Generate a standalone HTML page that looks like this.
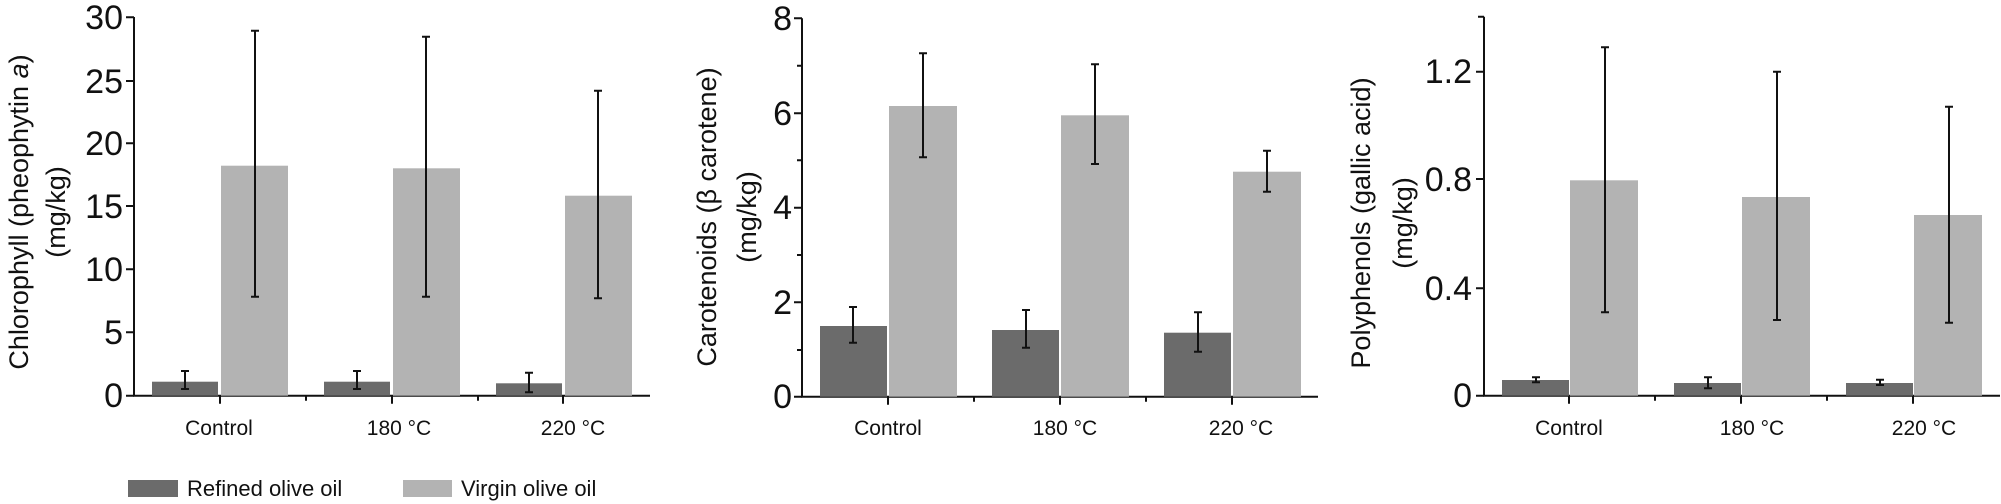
<!DOCTYPE html>
<html><head><style>
html,body{margin:0;padding:0;background:#fff;}
svg{display:block;font-family:"Liberation Sans",Arial,sans-serif;}
.tk{font-family:"Liberation Sans Narrow","Liberation Sans",Arial,sans-serif;}
</style></head><body>
<svg width="2001" height="504" viewBox="0 0 2001 504" xmlns="http://www.w3.org/2000/svg">
<g stroke="#111" stroke-width="2" fill="none">
<!-- chart1 axes -->
<path d="M134,17 V395.7 H650"/>
<path d="M134,17.3 h-8 M134,81 h-8 M134,143.3 h-8 M134,206 h-8 M134,269.3 h-8 M134,332.3 h-8 M134,395.7 h-8"/>
<path d="M220,395.7 v8 M392,395.7 v8 M563,395.7 v8 M306,395.7 v5 M478,395.7 v5"/>
<!-- chart2 axes -->
<path d="M802,18.3 V396.7 H1318"/>
<path d="M802,18.3 h-8 M802,113.3 h-8 M802,207.7 h-8 M802,302.3 h-8 M802,396.7 h-8"/>
<path d="M802,65.7 h-5 M802,160.3 h-5 M802,255 h-5 M802,350 h-5"/>
<path d="M888,396.7 v8 M1060,396.7 v8 M1232,396.7 v8 M974,396.7 v5 M1146,396.7 v5"/>
<!-- chart3 axes -->
<path d="M1484,16.7 V395.7 H2000"/>
<path d="M1484,16.7 h-6 M1484,71.7 h-8 M1484,179 h-8 M1484,288.3 h-8 M1484,395.7 h-8"/>
<path d="M1569,395.7 v8 M1741,395.7 v8 M1913,395.7 v8 M1655,395.7 v5 M1827,395.7 v5"/>
</g>
<g>
<rect x="152" y="381.7" width="66" height="14" fill="#6b6b6b"/>
<rect x="221" y="165.7" width="67" height="230" fill="#b3b3b3"/>
<rect x="324" y="381.7" width="66" height="14" fill="#6b6b6b"/>
<rect x="393" y="168.3" width="67" height="227.4" fill="#b3b3b3"/>
<rect x="496" y="383.3" width="66" height="12.4" fill="#6b6b6b"/>
<rect x="565" y="195.7" width="67" height="200" fill="#b3b3b3"/>

<rect x="820" y="326" width="67" height="70.7" fill="#6b6b6b"/>
<rect x="889" y="106" width="68" height="290.7" fill="#b3b3b3"/>
<rect x="992" y="330" width="67" height="66.7" fill="#6b6b6b"/>
<rect x="1061" y="115.3" width="68" height="281.4" fill="#b3b3b3"/>
<rect x="1164" y="332.7" width="67" height="64" fill="#6b6b6b"/>
<rect x="1233" y="171.7" width="68" height="225" fill="#b3b3b3"/>

<rect x="1502" y="380" width="67" height="15.7" fill="#6b6b6b"/>
<rect x="1570" y="180.3" width="68" height="215.4" fill="#b3b3b3"/>
<rect x="1674" y="383" width="67" height="12.7" fill="#6b6b6b"/>
<rect x="1742" y="197" width="68" height="198.7" fill="#b3b3b3"/>
<rect x="1846" y="383" width="67" height="12.7" fill="#6b6b6b"/>
<rect x="1914" y="215" width="68" height="180.7" fill="#b3b3b3"/>
</g>
<g stroke="#111" stroke-width="2" fill="none">
<path d="M185,371 V389 M181,371 h8 M181,389 h8"/>
<path d="M255,30.7 V296.7 M251,30.7 h8 M251,296.7 h8"/>
<path d="M357,371 V389 M353,371 h8 M353,389 h8"/>
<path d="M426,36.7 V296.7 M422,36.7 h8 M422,296.7 h8"/>
<path d="M529,372.7 V392.3 M525,372.7 h8 M525,392.3 h8"/>
<path d="M598,90.7 V298.3 M594,90.7 h8 M594,298.3 h8"/>

<path d="M853,307 V342.7 M849,307 h8 M849,342.7 h8"/>
<path d="M923,53.3 V157.3 M919,53.3 h8 M919,157.3 h8"/>
<path d="M1026,310 V347.7 M1022,310 h8 M1022,347.7 h8"/>
<path d="M1095,64.3 V164 M1091,64.3 h8 M1091,164 h8"/>
<path d="M1198,312.3 V351.7 M1194,312.3 h8 M1194,351.7 h8"/>
<path d="M1267,150.7 V191.7 M1263,150.7 h8 M1263,191.7 h8"/>

<path d="M1536,377.3 V382.3 M1532,377.3 h8 M1532,382.3 h8"/>
<path d="M1605,47.3 V312.3 M1601,47.3 h8 M1601,312.3 h8"/>
<path d="M1708,377.3 V388.3 M1704,377.3 h8 M1704,388.3 h8"/>
<path d="M1777,71.7 V320 M1773,71.7 h8 M1773,320 h8"/>
<path d="M1880,379.7 V385 M1876,379.7 h8 M1876,385 h8"/>
<path d="M1949,106.7 V322.7 M1945,106.7 h8 M1945,322.7 h8"/>
</g>
<g class="tk" font-size="34" fill="#111" text-anchor="end">
<text x="123" y="29">30</text><text x="123" y="93">25</text><text x="123" y="155">20</text>
<text x="123" y="218">15</text><text x="123" y="281">10</text><text x="123" y="344">5</text><text x="123" y="407">0</text>
<text x="792" y="30">8</text><text x="792" y="125">6</text><text x="792" y="219">4</text><text x="792" y="314">2</text><text x="792" y="408">0</text>
<text x="1472" y="83">1.2</text><text x="1472" y="191">0.8</text><text x="1472" y="300">0.4</text><text x="1472" y="407">0</text>
</g>
<g class="tk" font-size="21" fill="#111" text-anchor="middle">
<text x="219" y="435">Control</text><text x="399" y="435">180 °C</text><text x="573" y="435">220 °C</text>
<text x="888" y="435">Control</text><text x="1065" y="435">180 °C</text><text x="1241" y="435">220 °C</text>
<text x="1569" y="435">Control</text><text x="1752" y="435">180 °C</text><text x="1924" y="435">220 °C</text>
</g>
<g font-size="27" fill="#111" text-anchor="middle">
<text transform="translate(28,212) rotate(-90)">Chlorophyll (pheophytin <tspan font-style="italic">a</tspan>)</text>
<text transform="translate(65,212) rotate(-90)">(mg/kg)</text>
<text transform="translate(716,217) rotate(-90)">Carotenoids (β carotene)</text>
<text transform="translate(756,217) rotate(-90)">(mg/kg)</text>
<text transform="translate(1370,223) rotate(-90)">Polyphenols (gallic acid)</text>
<text transform="translate(1412,223) rotate(-90)">(mg/kg)</text>
</g>
<rect x="128" y="480" width="50" height="17" fill="#6b6b6b"/>
<text x="187" y="496" font-size="22" fill="#111" class="tk">Refined olive oil</text>
<rect x="403" y="480" width="49" height="17" fill="#b3b3b3"/>
<text x="461" y="496" font-size="22" fill="#111" class="tk">Virgin olive oil</text>
</svg>
</body></html>
